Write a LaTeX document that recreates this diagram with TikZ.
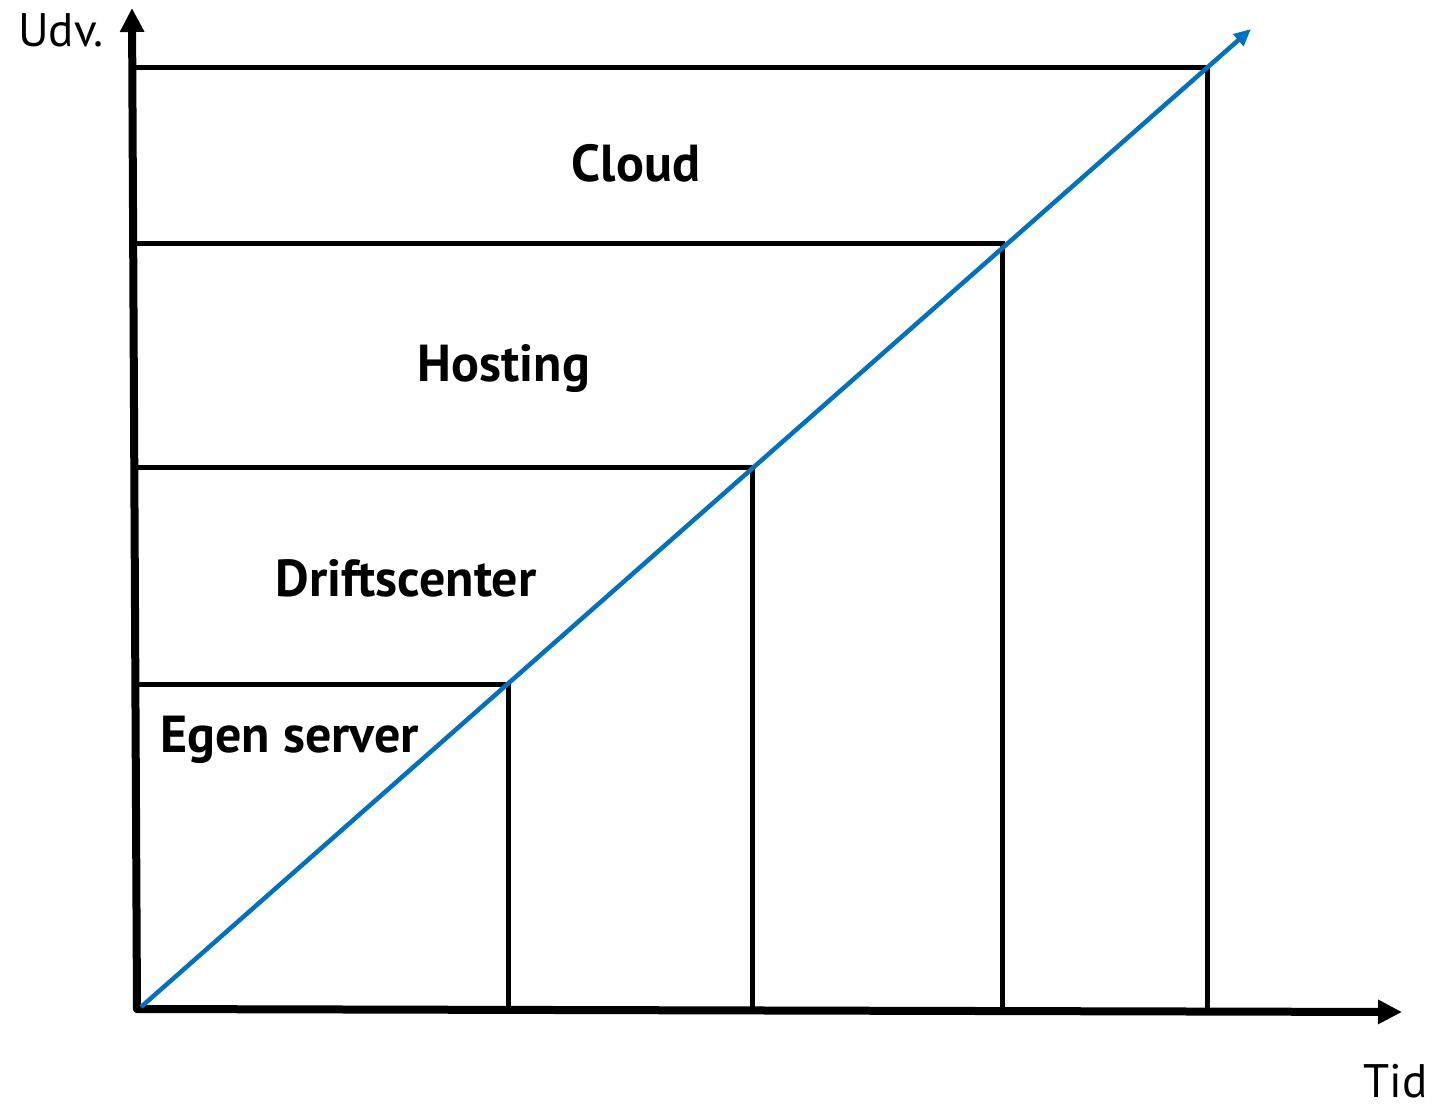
\documentclass[tikz,border=0pt]{standalone}
\usepackage{fontspec}
\setmainfont{PT Sans}
\usetikzlibrary{arrows.meta}
\definecolor{trendblue}{HTML}{0070C0}
\begin{document}
\begin{tikzpicture}[x=1pt,y=-1pt,
  axis/.style={line width=8pt, line cap=round, -{Triangle[length=24pt,width=23pt]}},
  frame/.style={line width=5pt, line join=miter},
  trend/.style={line width=4.5pt, draw=trendblue, -{Triangle[length=17pt,width=15pt]}},
  band/.style={font=\bfseries\fontsize{52}{62}\selectfont, inner sep=0pt},
  axislabel/.style={font=\fontsize{47}{56}\selectfont, inner sep=0pt}]
\useasboundingbox (0,0) rectangle (1438,1111);

% corner points
\coordinate (O) at (137,1009);
\coordinate (ytip) at (132,8);
\coordinate (xtip) at (1402,1012);

% stepped frames, one per hosting stage
\coordinate (c1) at (133,67);   \coordinate (c2) at (1207,67);   \coordinate (c3) at (1207,1010);
\coordinate (h1) at (134,243);  \coordinate (h2) at (1002,243);  \coordinate (h3) at (1002,1010);
\coordinate (d1) at (135,467);  \coordinate (d2) at (752,467);   \coordinate (d3) at (752,1010);
\coordinate (e0) at (136,1010); \coordinate (e1) at (136,684);   \coordinate (e2) at (508,684);   \coordinate (e3) at (508,1010);

\draw[frame] (c1) -- (c2) -- (c3);
\draw[frame] (h1) -- (h2) -- (h3);
\draw[frame] (d1) -- (d2) -- (d3);
\draw[frame] (e0) -- (e1) -- (e2) -- (e3);

% axes
\draw[axis] (O) -- (ytip);
\draw[axis] (O) -- (xtip);

% growth line
\coordinate (g0) at (141,1007);
\coordinate (g1) at (1251,29);
\draw[trend] (g0) -- (g1);

% labels
\node[band, anchor=base] (cloud) at (636,181) {Cloud};
\node[band, anchor=base] (hosting) at (504,381) {Hosting};
\node[band, anchor=base] (drift) at (406,596) {Driftscenter};
\node[band, anchor=base west] (egen) at (160,752) {Egen server};
\node[axislabel, anchor=base west] (udv) at (18,46) {Udv.};
\node[axislabel, anchor=base east] (tid) at (1428,1097) {Tid};
\end{tikzpicture}
\end{document}
